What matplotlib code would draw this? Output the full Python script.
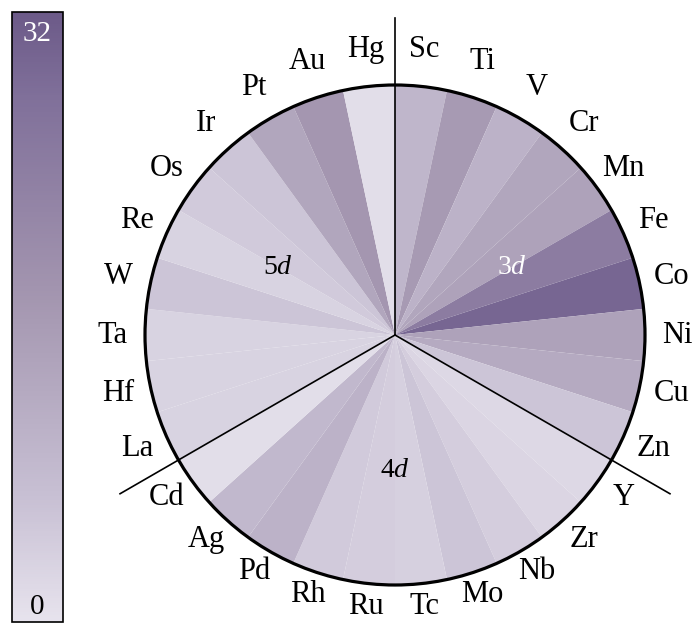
import matplotlib
matplotlib.use('Agg')
import matplotlib.pyplot as plt
import matplotlib.patches as mpatches
from matplotlib.colors import LinearSegmentedColormap, Normalize
import numpy as np

# ── Data ──────────────────────────────────────────────────────────────────────
elements_3d = ['Sc', 'Ti', 'V', 'Cr', 'Mn', 'Fe', 'Co', 'Ni', 'Cu', 'Zn']
elements_4d = ['Y', 'Zr', 'Nb', 'Mo', 'Tc', 'Ru', 'Rh', 'Pd', 'Ag', 'Cd']
elements_5d = ['La', 'Hf', 'Ta', 'W', 'Re', 'Os', 'Ir', 'Pt', 'Au', 'Hg']

values_3d = [9, 16, 10, 13, 14, 24, 29.5, 14, 12, 5.5]
values_4d = [2, 2.5, 4, 5.5, 3.5, 4, 4.5, 10, 8.5, 1]
values_5d = [3, 3, 3, 5.5, 3, 4.5, 5.5, 13, 17, 1]

shell_labels = ['3$d$', '4$d$', '5$d$']
vmin, vmax = 0, 32

# ── Style ─────────────────────────────────────────────────────────────────────
SERIF = 'Liberation Serif'
plt.rcParams.update({
    'font.family': SERIF,
    'mathtext.fontset': 'custom',
    'mathtext.rm': SERIF,
    'mathtext.it': SERIF + ':italic',
})
cmap = LinearSegmentedColormap.from_list(
    'lav', [(0.0, '#e7e3ed'), (0.2, '#c8c0d4'), (0.53, '#a496b0'),
            (0.86, '#80709a'), (1.0, '#6c5a88')])
norm = Normalize(vmin, vmax)

labels = elements_3d + elements_4d + elements_5d
values = values_3d + values_4d + values_5d

fig = plt.figure(figsize=(6.93, 6.29), dpi=100)

# ── Pie ───────────────────────────────────────────────────────────────────────
R_PX = 250
cx, cy = 395, 629 - 335
half = 330
ax = fig.add_axes([(cx - half) / 693, (cy - half) / 629, 2 * half / 693, 2 * half / 629])
lim = half / R_PX

wedges, _ = ax.pie([1] * len(values), colors=cmap(norm(values)),
                   startangle=90, counterclock=False, radius=1,
                   wedgeprops={'linewidth': 0})
ax.set_xlim(-lim, lim)
ax.set_ylim(-lim, lim)
ax.set_aspect('equal')
ax.axis('off')

ax.add_patch(mpatches.Circle((0, 0), 1, fill=False, ec='black', lw=2.3, zorder=5))

# element labels
for w, lab in zip(wedges, labels):
    a = np.deg2rad((w.theta1 + w.theta2) / 2)
    ax.text(1.13 * np.cos(a), 1.12 * np.sin(a) - 0.032 * np.cos(a) ** 2, lab,
            ha='center', va='baseline', fontsize=22, color='black')

# separators between shells
n = len(elements_3d)
for k in range(3):
    ang = np.deg2rad(wedges[k * n].theta2)
    ax.plot([0, 1.27 * np.cos(ang)], [0, 1.27 * np.sin(ang)],
            color='black', lw=1.2, zorder=6, clip_on=False)

# shell labels
for k, txt in enumerate(shell_labels):
    a = np.deg2rad(wedges[k * n].theta2 - 60)
    ax.text(0.54 * np.cos(a), 0.54 * np.sin(a), txt, ha='center', va='center',
            fontsize=20, color='white' if k == 0 else 'black')

# ── Colorbar ──────────────────────────────────────────────────────────────────
cax = fig.add_axes([12 / 693, 7 / 629, 51 / 693, 610 / 629])
sm = plt.cm.ScalarMappable(norm=norm, cmap=cmap)
cb = fig.colorbar(sm, cax=cax)
cb.set_ticks([])
cb.outline.set_linewidth(1.2)
cax.text(0.5, 0.985, str(vmax), transform=cax.transAxes, ha='center', va='top',
         fontsize=21, color='white')
cax.text(0.5, 0.004, str(vmin), transform=cax.transAxes, ha='center', va='bottom',
         fontsize=21, color='black')

fig.savefig('out.png', dpi=100, facecolor='white')
